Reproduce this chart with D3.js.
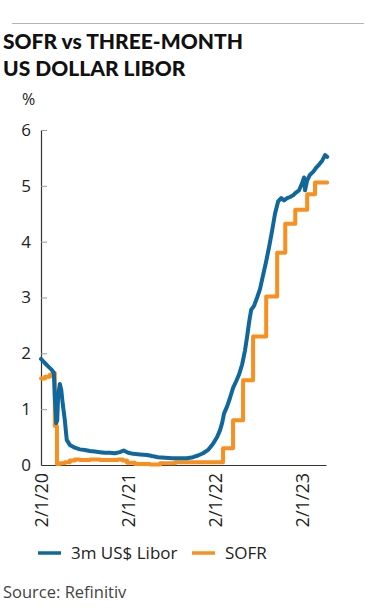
<!DOCTYPE html>
<html>
<head>
<meta charset="utf-8">
<script src="https://cdn.jsdelivr.net/npm/d3@7"></script>
<style>
  body { margin: 0; background: #fff; }
  svg { display: block; font-family: "Open Sans", sans-serif; }
</style>
</head>
<body>
<svg id="chart" width="366" height="616"></svg>
<script>
// 3m US$ Libor
const liborDates = ['2020-02-01','2020-02-14','2020-03-01','2020-03-18','2020-03-26','2020-03-30','2020-04-05','2020-04-09','2020-04-13','2020-04-20','2020-04-26','2020-05-02','2020-05-11','2020-05-19','2020-06-01','2020-06-22','2020-07-13','2020-08-03','2020-08-24','2020-09-14','2020-10-05','2020-10-26','2020-11-16','2020-12-07','2020-12-28','2021-01-13','2021-02-01','2021-02-22','2021-03-23','2021-04-21','2021-05-12','2021-06-06','2021-07-06','2021-08-04','2021-09-07','2021-10-06','2021-10-31','2021-11-21','2021-12-12','2022-01-02','2022-01-23','2022-02-09','2022-02-21','2022-03-02','2022-03-10','2022-03-23','2022-04-04','2022-04-17','2022-04-30','2022-05-12','2022-05-25','2022-06-06','2022-06-15','2022-06-23','2022-07-02','2022-07-14','2022-07-27','2022-08-08','2022-08-21','2022-09-03','2022-09-15','2022-09-28','2022-10-10','2022-10-23','2022-11-05','2022-11-17','2022-11-30','2022-12-12','2022-12-25','2023-01-06','2023-01-19','2023-02-01','2023-02-09','2023-02-13','2023-02-22','2023-03-06','2023-03-19','2023-03-31','2023-04-13','2023-04-26','2023-05-08','2023-05-17'];
const liborValues = [1.90,1.84,1.77,1.70,1.65,1.20,0.75,0.80,1.25,1.45,1.35,1.10,0.80,0.45,0.36,0.31,0.28,0.27,0.25,0.24,0.23,0.22,0.22,0.21,0.23,0.26,0.22,0.20,0.19,0.18,0.16,0.14,0.13,0.12,0.12,0.12,0.14,0.17,0.21,0.27,0.38,0.50,0.62,0.75,0.92,1.05,1.20,1.38,1.50,1.62,1.80,2.05,2.30,2.55,2.78,2.85,3.00,3.15,3.40,3.65,3.90,4.20,4.50,4.72,4.78,4.74,4.78,4.80,4.83,4.88,4.92,5.05,5.15,4.92,5.10,5.20,5.25,5.32,5.38,5.45,5.55,5.52];

// SOFR (step changes)
const sofrDates = ['2020-02-01','2020-02-18','2020-03-10','2020-03-22','2020-03-30','2020-04-08','2020-04-20','2020-05-11','2020-06-01','2020-06-22','2020-07-13','2020-08-24','2020-10-05','2020-11-16','2020-12-20','2021-01-09','2021-01-27','2021-03-01','2021-05-04','2021-06-15','2021-08-17','2021-12-01','2022-03-06','2022-04-17','2022-05-29','2022-07-10','2022-09-03','2022-10-19','2022-11-22','2023-01-03','2023-02-22','2023-03-27','2023-05-17'];
const sofrValues = [1.55,1.58,1.62,1.65,0.70,0.02,0.03,0.05,0.08,0.10,0.09,0.10,0.09,0.09,0.10,0.08,0.04,0.02,0.01,0.03,0.05,0.05,0.30,0.80,1.52,2.30,3.02,3.80,4.32,4.57,4.85,5.06,5.06];

const yTicks = [0, 1, 2, 3, 4, 5, 6];
const xTicks = ['2020-02-01', '2021-02-01', '2022-02-01', '2023-02-01'];
const seriesNames = ['3m US$ Libor', 'SOFR'];
const colors = ['#10679c', '#f8901f'];

const parse = d3.timeParse('%Y-%m-%d');
const libor = liborDates.map((d, i) => ({ date: parse(d), value: liborValues[i] }));
const sofr = sofrDates.map((d, i) => ({ date: parse(d), value: sofrValues[i] }));

const svg = d3.select('#chart');
const margin = { top: 130, left: 41 };
const chartwidth = 285;
const chartheight = 335;

// header
svg.append('line')
  .attr('x1', 12).attr('x2', 364).attr('y1', 23.5).attr('y2', 23.5)
  .attr('stroke', '#b5b5b5').attr('stroke-width', 1);

const title = svg.append('text')
  .attr('font-family', 'Lato, sans-serif')
  .attr('font-weight', 900).attr('font-size', 21).attr('fill', '#111');
title.append('tspan').attr('x', 3).attr('y', 49).text('SOFR vs THREE-MONTH');
title.append('tspan').attr('x', 3).attr('y', 76).text('US DOLLAR LIBOR');

svg.append('text')
  .attr('x', 22).attr('y', 105)
  .attr('font-size', 16).attr('fill', '#222')
  .text('%');

const xScale = d3.scaleTime()
  .domain([parse('2020-02-01'), parse('2023-05-12')])
  .range([0, chartwidth]);
const yScale = d3.scaleLinear().domain([0, 6]).range([chartheight, 0]);

const chart = svg.append('g')
  .attr('transform', `translate(${margin.left},${margin.top})`);

// y axis, ticks pointing inside
const yAxis = chart.append('g')
  .call(d3.axisLeft(yScale).tickValues(yTicks).tickSize(-6).tickPadding(10).tickFormat(d3.format('d')));
yAxis.select('.domain').attr('stroke', '#333').attr('stroke-width', 1.2);
yAxis.selectAll('.tick line').attr('stroke', '#999');
yAxis.selectAll('.tick text').attr('font-size', 17).attr('fill', '#222').attr('font-family', '"Open Sans", sans-serif');

// x axis
const xAxis = chart.append('g')
  .attr('transform', `translate(0,${chartheight})`)
  .call(d3.axisBottom(xScale).tickValues(xTicks.map(parse)).tickSize(0).tickFormat(d3.timeFormat('%-m/%-d/%y')));
xAxis.select('.domain').attr('stroke', '#333').attr('stroke-width', 1.2);
xAxis.selectAll('.tick text')
  .attr('font-size', 18).attr('fill', '#222').attr('font-family', '"Open Sans", sans-serif')
  .attr('transform', 'rotate(-90)')
  .attr('text-anchor', 'end')
  .attr('x', -8).attr('y', 0).attr('dy', '0.35em');

const line = d3.line()
  .x(d => xScale(d.date))
  .y(d => yScale(d.value))
  .curve(d3.curveLinear);

const stepLine = d3.line()
  .x(d => xScale(d.date))
  .y(d => yScale(d.value))
  .curve(d3.curveStepAfter);

chart.append('path')
  .datum(sofr)
  .attr('fill', 'none')
  .attr('stroke', colors[1])
  .attr('stroke-width', 4)
  .attr('stroke-linejoin', 'round')
  .attr('stroke-linecap', 'round')
  .attr('d', stepLine);

chart.append('path')
  .datum(libor)
  .attr('fill', 'none')
  .attr('stroke', colors[0])
  .attr('stroke-width', 4)
  .attr('stroke-linejoin', 'round')
  .attr('stroke-linecap', 'round')
  .attr('d', line);

// legend
const legend = svg.append('g').attr('transform', 'translate(38,553)');
const legendX = [0, 154];
seriesNames.forEach((name, i) => {
  const g = legend.append('g').attr('transform', `translate(${legendX[i]},0)`);
  g.append('line').attr('x1', 0).attr('x2', 23).attr('y1', 0).attr('y2', 0)
    .attr('stroke', colors[i]).attr('stroke-width', 3.5);
  g.append('text').attr('x', 33).attr('y', 0).attr('dy', '0.35em')
    .attr('font-size', 17).attr('fill', '#222').text(name);
});

svg.append('text')
  .attr('x', 3).attr('y', 598)
  .attr('font-size', 16.5).attr('fill', '#444')
  .text('Source: Refinitiv');
</script>
</body>
</html>
